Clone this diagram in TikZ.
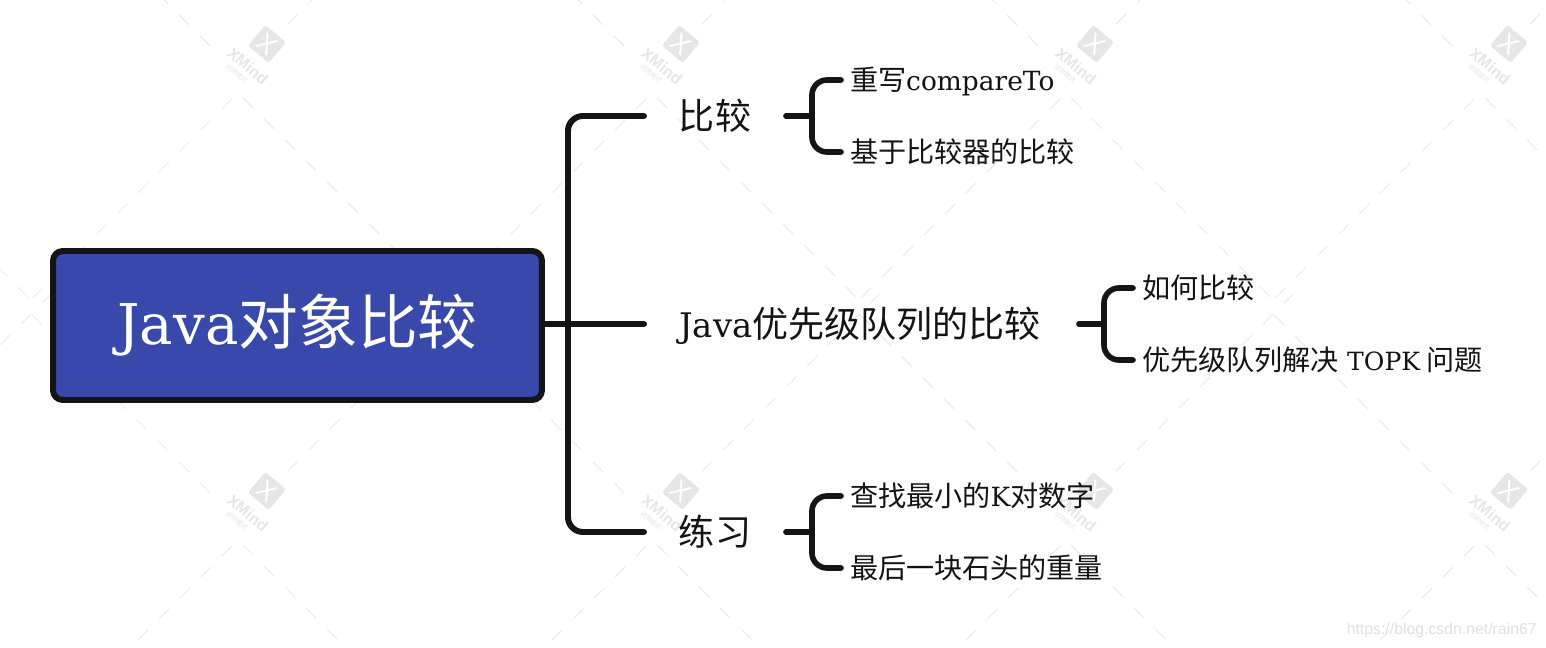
\documentclass[tikz,border=0pt]{standalone}
\usepackage{fontspec}
\setmainfont[Scale=0.94]{DejaVu Serif}
\newfontfamily\cjk{Noto Sans CJK SC}
\newfontfamily\marcafont{Liberation Sans}
\usetikzlibrary{positioning}
\definecolor{cfondo}{HTML}{3949AB}
\definecolor{cnegro}{HTML}{141414}
\definecolor{cmarca}{HTML}{E6E6E6}
\definecolor{craya}{HTML}{EAEAEA}
\definecolor{curl}{HTML}{E0E0E0}
\tikzset{
  raiz/.style={draw=cnegro,fill=cfondo,line width=3.4pt,rounded corners=5.5pt,text=white,
               minimum width=9.78cm,minimum height=2.98cm,font=\fontsize{34}{40}\selectfont},
  rama/.style={minimum height=1cm,inner sep=0pt,outer sep=0pt,text=cnegro,
               text height=19pt,text depth=3.4pt,font=\fontsize{20.5}{24}\selectfont},
  hoja/.style={anchor=west,inner xsep=0.18cm,inner ysep=0pt,outer sep=0pt,text=cnegro,
               text height=15pt,text depth=3pt,font=\fontsize{16}{19}\selectfont},
  linea/.style={draw=cnegro,line width=3.2pt,line cap=round,rounded corners=8.5pt},
  raya/.style={draw=craya,line width=0.6pt},
  logo/.style={fill=cmarca,rounded corners=1.5pt,minimum size=0.54cm,inner sep=0pt,rotate=-40,
               text=white,font=\marcafont\fontsize{15}{15}\selectfont},
  xmind/.style={rotate=-40,inner sep=0pt,text=cmarca,font=\marcafont\bfseries\fontsize{9}{10}\selectfont},
  prueba/.style={rotate=-40,inner sep=0pt,text=cmarca,font=\cjk\fontsize{3.6}{4}\selectfont},
}
\begin{document}
\begin{tikzpicture}[x=0.02cm,y=-0.02cm]
\useasboundingbox (0,0) rectangle (1546,648);
\fill[white] (0,0) rectangle (1546,648);

% marca de agua
\begin{scope}
\clip (0,0) rectangle (1546,648);
\foreach \j in {0,1} {
  \foreach \i in {-1,0,1,2,3} {
    \begin{scope}[shift={(\i*414,\j*447)}]
      \foreach \n in {0,...,8} {
        \draw[raya] ({210-21*\n},{46-21*\n}) -- ++(-10,-10);
        \draw[raya] ({288+21*\n},{24-21*\n}) -- ++(10,-10);
      }
      \foreach \n in {0,...,9} {
        \draw[raya] ({232-21*\n},{99+21*\n}) -- ++(-10,10);
        \draw[raya] ({243+21*\n},{98+21*\n}) -- ++(10,10);
      }
      \ifnum\i>-1
        \node[logo] (logo\i\j) at (267,44) {X};
        \node[xmind] (xmind\i\j) at (248,66) {XMind};
        \node[prueba] (prueba\i\j) at (237,74) {试用模式};
      \fi
    \end{scope}
  }
}
\end{scope}
\node[anchor=east,inner sep=0pt,text=curl,font=\marcafont\fontsize{9}{11}\selectfont] (url) at (1537,630) {https://blog.csdn.net/rain67};

\node[raiz] (root) at (297.5,325.5) {Java{\cjk 对象比较}};

\node[rama,minimum width=2.84cm] (cmp)  at (715,116) {{\cjk 比较}};
\node[rama,minimum width=8.64cm] (pq)   at (860,324) {Java{\cjk 优先级队列的比较}};
\node[rama,minimum width=2.84cm] (prac) at (715,532) {{\cjk 练习}};

\node[hoja] (cmpa)  at (841,80)   {{\cjk 重写}compareTo};
\node[hoja] (cmpb)  at (841,152)  {{\cjk 基于比较器的比较}};
\node[hoja] (pqa)   at (1133,288) {{\cjk 如何比较}};
\node[hoja] (pqb)   at (1133,360) {{\cjk 优先级队列解决} {\fontsize{15.2}{19}\selectfont TOPK}\hspace{0.12cm}{\cjk 问题}};
\node[hoja] (praca) at (841,496)  {{\cjk 查找最小的}K{\cjk 对数字}};
\node[hoja] (pracb) at (841,568)  {{\cjk 最后一块石头的重量}};

\coordinate (eje)    at (568,324);
\coordinate (llavea) at (812,116);
\coordinate (llaveb) at (1104,324);
\coordinate (llavec) at (812,532);

\draw[linea,line width=3.4pt] (root.east |- pq.west) -- (pq.west);
\draw[linea,line width=3.4pt] (eje) |- (cmp.west);
\draw[linea,line width=3.4pt] (eje) |- (prac.west);

\draw[linea] (cmp.east) -- (llavea);
\draw[linea] (llavea) |- (cmpa.west);
\draw[linea] (llavea) |- (cmpb.west);
\draw[linea,shorten <=0.06cm] (pq.east) -- (llaveb);
\draw[linea] (llaveb) |- (pqa.west);
\draw[linea] (llaveb) |- (pqb.west);
\draw[linea] (prac.east) -- (llavec);
\draw[linea] (llavec) |- (praca.west);
\draw[linea] (llavec) |- (pracb.west);

\end{tikzpicture}
\end{document}
